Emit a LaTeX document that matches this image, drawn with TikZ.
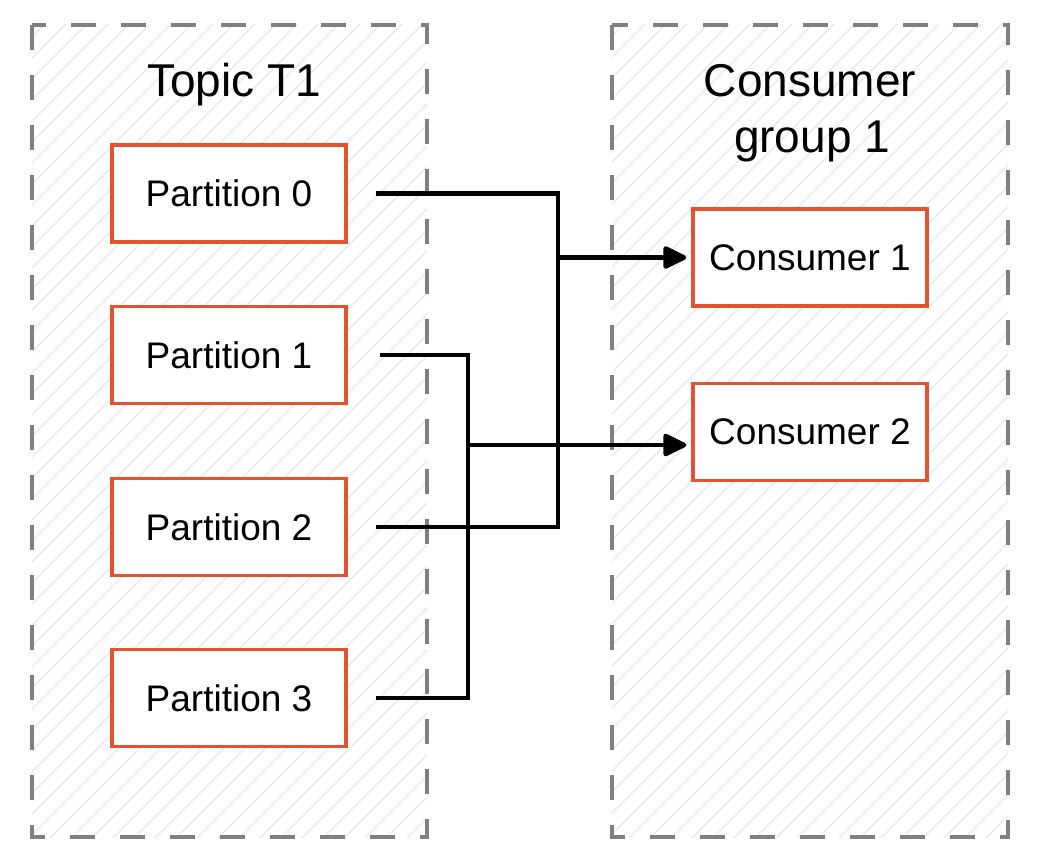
\documentclass[tikz,border=0pt]{standalone}
\usepackage{fontspec}
\setmainfont{Liberation Sans}
\usetikzlibrary{arrows.meta,calc}
\definecolor{boxred}{HTML}{E4532F}
\definecolor{dashgrey}{HTML}{808080}
\definecolor{hatchgrey}{HTML}{EBEBEB}
\tikzset{
  container/.style={draw=dashgrey,line width=3.8pt,dash pattern=on 25pt off 25pt},
  hatchline/.style={draw=hatchgrey,line width=1.5pt},
  itembox/.style={draw=boxred,fill=white,line width=3.5pt,minimum width=234pt,minimum height=97pt,inner sep=0pt,font=\fontsize{37}{44}\selectfont},
  titletext/.style={font=\fontsize{46}{55}\selectfont,anchor=base,align=center},
  conn/.style={draw=black,line width=4.5pt},
  arr/.style={conn,-{Triangle[length=26pt,width=24pt,round]}}
}
\begin{document}
\begin{tikzpicture}[x=1pt,y=-1pt]
\useasboundingbox (0,0) rectangle (1040,864);
% hatching
\begin{scope}
\clip (32,25) rectangle (427,837);
\foreach \i in {-900,-879,...,1100} \draw[hatchline] (\i,864) -- ++(864,-864);
\end{scope}
\begin{scope}
\clip (612,25) rectangle (1008,837);
\foreach \i in {-300,-279,...,1700} \draw[hatchline] (\i,864) -- ++(864,-864);
\end{scope}
% containers
\draw[container] (32,25) rectangle (427,837);
\draw[container] (612,25) rectangle (1008,837);
% titles
\node[titletext] (tt) at (234,97) {Topic T1};
\node[titletext] (cg1) at (810,97) {Consumer};
\node[titletext] (cg2) at (812,152) {group 1};
% boxes
\node[itembox] (p0) at (229,193.5) {Partition 0};
\node[itembox] (p1) at (229,355) {Partition 1};
\node[itembox] (p2) at (229,527) {Partition 2};
\node[itembox] (p3) at (229,698) {Partition 3};
\node[itembox] (c1) at (810,257.5) {Consumer 1};
\node[itembox] (c2) at (810,432) {Consumer 2};
% buses
\coordinate (busA) at (558,0);
\coordinate (busB) at (468,0);
\coordinate (c2in) at ($(c2.west)+(-5,13)$);
\draw[conn] ([xshift=28pt]p0.east) -- (p0.east -| busA) -- (p2.east -| busA) -- ([xshift=28pt]p2.east);
\draw[conn] ([xshift=32pt]p1.east) -- (p1.east -| busB) -- (p3.east -| busB) -- ([xshift=28pt]p3.east);
\draw[arr] (c1.west -| busA) -- ([xshift=-5pt]c1.west);
\draw[arr] (c2in -| busB) -- (c2in);
\end{tikzpicture}
\end{document}
